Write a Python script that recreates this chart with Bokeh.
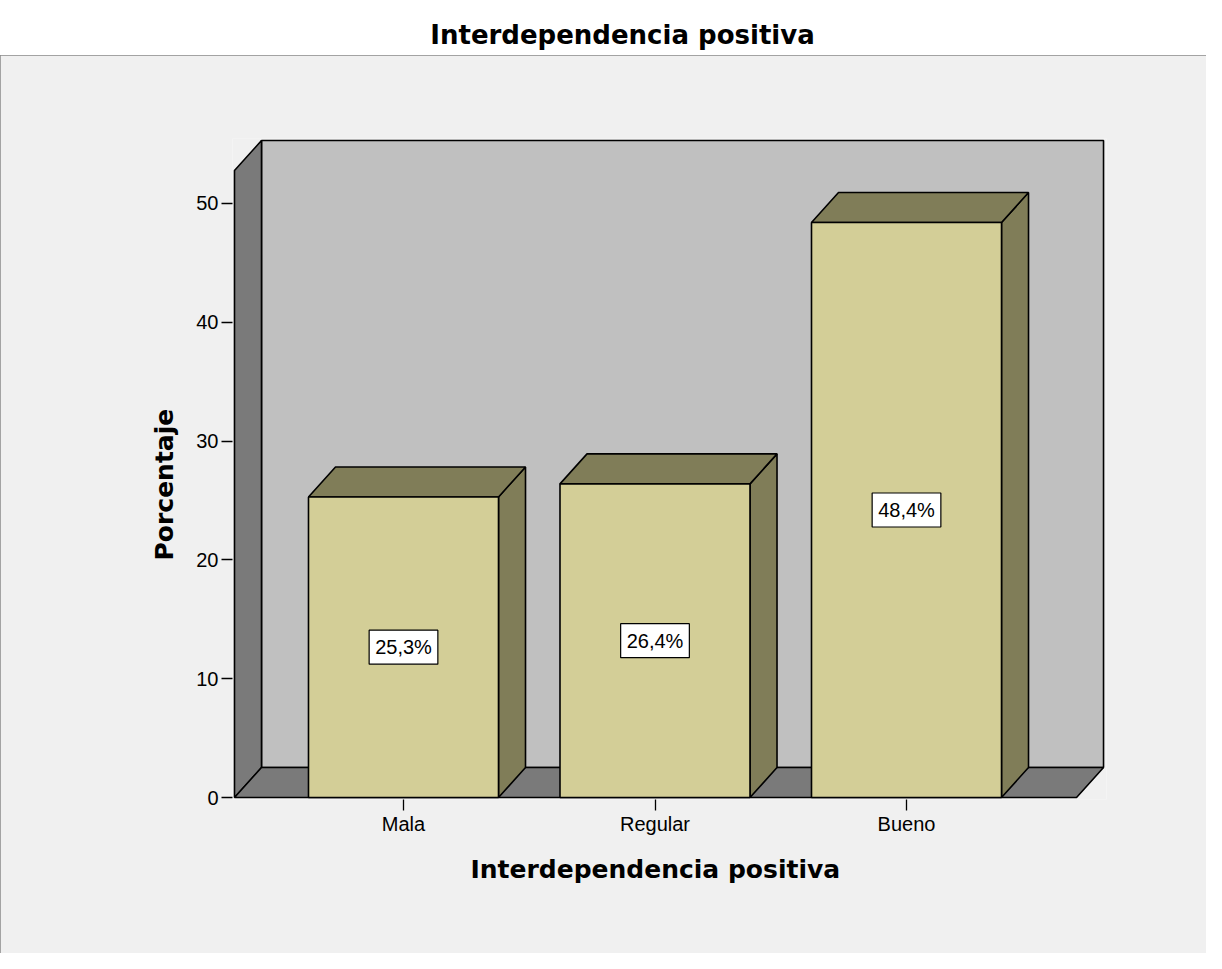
from bokeh.plotting import figure
from bokeh.models import Range1d, FixedTicker, Title, ColumnDataSource
from bokeh.layouts import column
from bokeh.embed import file_html
from bokeh.resources import INLINE
from bokeh.core.properties import value

# ---------------- data ----------------
categories = ["Mala", "Regular", "Bueno"]
percentages = [25.3, 26.4, 48.4]
y_ticks = [0, 10, 20, 30, 40, 50]
chart_title = "Interdependencia positiva"
x_title = "Interdependencia positiva"
y_title = "Porcentaje"

# ---------------- style / geometry ----------------
FRONT = "#d3ce97"
SHADE = "#807d58"
WALL_BACK = "#c0c0c0"
WALL_SIDE = "#7a7a7a"
BG = "#f0f0f0"
LW = 1.6

DX = 0.1074     # depth offset (x data units)
DY = 2.525      # depth offset (y data units)
BAR_W = 0.7555
X_LEFT = 0.328
X_RIGHT = 3.676
WALL_TOP = 55.30

W = 1206
TOP_H = 55
MAIN_H = 898
BL, BR = 232, 100          # left / right borders (frame 232..1106)

pos = [i + 1 for i in range(len(categories))]

# ---------------- title figure ----------------
pt = figure(width=W, height=TOP_H, title=None,
            x_range=Range1d(BL, W - BR), y_range=Range1d(0, TOP_H),
            toolbar_location=None, output_backend="svg",
            min_border_left=BL, min_border_right=BR, min_border_top=0, min_border_bottom=0,
            x_axis_location=None, y_axis_location=None,
            background_fill_color="white", border_fill_color="white", outline_line_color=None)
pt.xgrid.visible = False
pt.ygrid.visible = False
pt.text(x=[622], y=[21], text=[chart_title], text_align="center", text_baseline="alphabetic",
        text_font=value("DejaVu Sans"), text_font_style="bold", text_font_size="26px",
        text_color="black")

# ---------------- main figure ----------------
p = figure(width=W, height=MAIN_H,
           x_range=Range1d(0.3201, 3.7952), y_range=Range1d(-0.168, 55.47),
           min_border_left=BL, min_border_right=BR, min_border_top=83, min_border_bottom=154,
           toolbar_location=None, output_backend="svg",
           background_fill_color=BG, border_fill_color=BG, outline_line_color=None)
p.styles = {"outline": "2px solid #8a8a8a", "outline-offset": "-2px"}
p.xgrid.visible = False
p.ygrid.visible = False

# back wall
p.patch([X_LEFT + DX, X_RIGHT + DX, X_RIGHT + DX, X_LEFT + DX],
        [DY, DY, WALL_TOP, WALL_TOP],
        fill_color=WALL_BACK, line_color="black", line_width=LW)
# left side wall
p.patch([X_LEFT, X_LEFT, X_LEFT + DX, X_LEFT + DX],
        [0, WALL_TOP - DY, WALL_TOP, DY],
        fill_color=WALL_SIDE, line_color="black", line_width=LW)
# floor
p.patch([X_LEFT, X_RIGHT, X_RIGHT + DX, X_LEFT + DX],
        [0, 0, DY, DY],
        fill_color=WALL_SIDE, line_color="black", line_width=LW)

# bars
for c, v in zip(pos, percentages):
    l = c - BAR_W / 2
    r = c + BAR_W / 2
    p.patch([r, r, r + DX, r + DX], [0, v, v + DY, DY],
            fill_color=SHADE, line_color="black", line_width=LW)
    p.patch([l, r, r + DX, l + DX], [v, v, v + DY, v + DY],
            fill_color=SHADE, line_color="black", line_width=LW)
    p.patch([l, r, r, l], [0, 0, v, v],
            fill_color=FRONT, line_color="black", line_width=LW)

# value labels
lab_src = ColumnDataSource(dict(
    x=pos,
    y=[v / 2 for v in percentages],
    t=[f"{v:.1f}".replace(".", ",") + "%" for v in percentages],
))
p.text(x="x", y="y", text="t", source=lab_src, text_align="center", text_baseline="middle",
       text_font=value("Liberation Sans"), text_font_size="20px", text_color="black",
       background_fill_color="white", border_line_color="black", border_line_width=1.2,
       padding=6)

# axes
yax = p.yaxis[0]
yax.ticker = FixedTicker(ticks=y_ticks)
yax.axis_line_color = None
yax.major_tick_in = 0
yax.major_tick_out = 11
yax.minor_tick_line_color = None
yax.major_tick_line_color = "black"
yax.major_tick_line_width = 1.3
yax.major_label_standoff = 3
yax.major_label_text_font = "Liberation Sans"
yax.major_label_text_font_size = "20px"
yax.major_label_text_color = "black"

xax = p.xaxis[0]
xax.ticker = FixedTicker(ticks=pos)
xax.major_label_overrides = {c: name for c, name in zip(pos, categories)}
xax.axis_line_color = None
xax.major_tick_in = 0
xax.major_tick_out = 11
xax.minor_tick_line_color = None
xax.major_tick_line_color = "black"
xax.major_tick_line_width = 1.3
xax.major_label_standoff = 2
xax.major_label_text_font = "Liberation Sans"
xax.major_label_text_font_size = "20px"
xax.major_label_text_color = "black"

p.add_layout(Title(text=y_title, align="left", offset=239, standoff=29, text_font="DejaVu Sans",
                   text_font_style="bold", text_font_size="25px", text_color="black"), "left")
p.add_layout(Title(text=x_title, align="left", offset=238, standoff=30, text_font="DejaVu Sans",
                   text_font_style="bold", text_font_size="25px", text_color="black"), "below")

layout = column(pt, p, spacing=0)
open("out.html", "w").write(file_html(layout, INLINE))
